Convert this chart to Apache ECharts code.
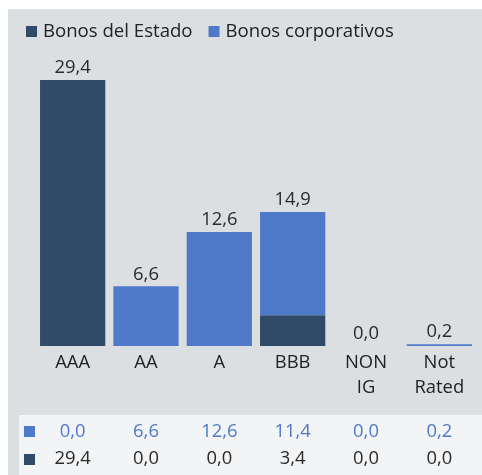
<!DOCTYPE html>
<html>
<head>
<meta charset="utf-8">
<script src="https://cdn.jsdelivr.net/npm/echarts@6/dist/echarts.min.js"></script>
<style>
  html, body { margin: 0; padding: 0; background: #fff; }
  #chart { width: 482px; height: 475px; }
</style>
</head>
<body>
<div id="chart"></div>
<script>
const categories = ['AAA', 'AA', 'A', 'BBB', 'NON\nIG', 'Not\nRated']
const estado = [29.4, 0.0, 0.0, 3.4, 0.0, 0.0]
const corporativos = [0.0, 6.6, 12.6, 11.4, 0.0, 0.2]
// totales tal como aparecen (redondeados en origen)
const totales = [29.4, 6.6, 12.6, 14.9, 0.0, 0.2]

const darkColor = '#304b67'
const blueColor = '#4f79c9'
const fmt = v => v.toFixed(1).replace('.', ',')

const chart = echarts.init(document.getElementById('chart'))

const options = {
  backgroundColor: '#ffffff',
  animation: false,
  textStyle: { fontFamily: 'Open Sans' },
  graphic: [
    { type: 'rect', z: -10, shape: { x: 8, y: 9, width: 474, height: 466 }, style: { fill: '#dcdfe2' } },
    { type: 'rect', z: -9, shape: { x: 19, y: 415, width: 463, height: 60 }, style: { fill: '#f3f4f6' } },
    { type: 'rect', shape: { x: 24, y: 426, width: 11, height: 11 }, style: { fill: blueColor } },
    { type: 'rect', shape: { x: 24, y: 454, width: 11, height: 11 }, style: { fill: darkColor } }
  ],
  legend: {
    left: 21,
    top: 17,
    itemWidth: 11,
    itemHeight: 11,
    itemGap: 16,
    icon: 'rect',
    textStyle: { fontSize: 18.6, color: '#222', padding: [0, 0, 0, 1] },
    data: ['Bonos del Estado', 'Bonos corporativos']
  },
  grid: { left: 36, right: 6, top: 80, bottom: 129 },
  xAxis: [
    {
      type: 'category',
      data: categories,
      axisLine: { show: false },
      axisTick: { show: false },
      axisLabel: { fontSize: 18.4, color: '#222', lineHeight: 25, margin: 4, interval: 0 }
    },
    {
      type: 'category',
      data: categories,
      position: 'bottom',
      offset: 77,
      axisLine: { show: false },
      axisTick: { show: false },
      axisLabel: { fontSize: 18.4, color: blueColor, margin: 0, interval: 0,
        formatter: (v, i) => fmt(corporativos[i]) }
    },
    {
      type: 'category',
      data: categories,
      position: 'bottom',
      offset: 104,
      axisLine: { show: false },
      axisTick: { show: false },
      axisLabel: { fontSize: 18.4, color: '#2a2a2a', margin: 0, interval: 0,
        formatter: (v, i) => fmt(estado[i]) }
    }
  ],
  yAxis: {
    type: 'value',
    min: 0,
    max: 29.4,
    show: false,
    splitLine: { show: false }
  },
  series: [
    {
      name: 'Bonos del Estado',
      type: 'bar',
      stack: 'total',
      barCategoryGap: '11%',
      itemStyle: { color: darkColor },
      data: estado
    },
    {
      name: 'Bonos corporativos',
      type: 'bar',
      stack: 'total',
      barCategoryGap: '11%',
      itemStyle: { color: blueColor },
      label: {
        show: true,
        position: 'top',
        distance: 3,
        fontSize: 18.4,
        color: '#2a2a2a',
        formatter: p => fmt(totales[p.dataIndex])
      },
      data: corporativos
    }
  ]
}

chart.setOption(options)
</script>
</body>
</html>
